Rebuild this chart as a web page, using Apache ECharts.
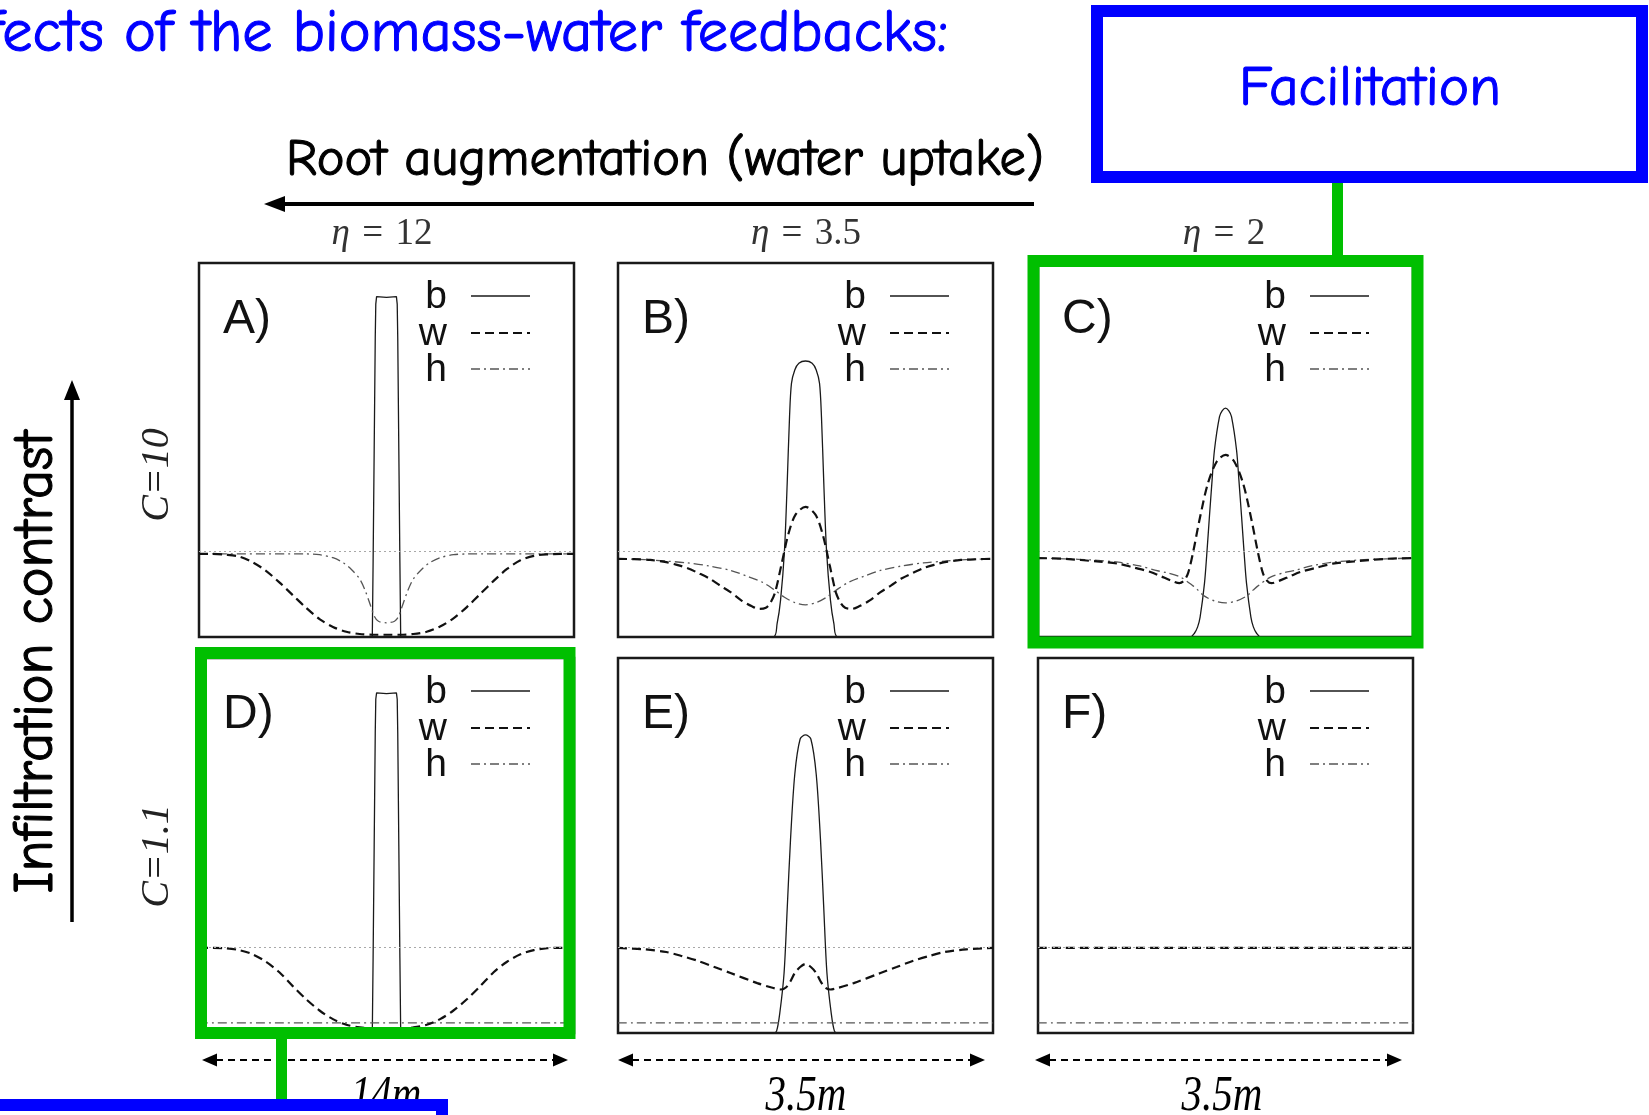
<!DOCTYPE html>
<html>
<head>
<meta charset="utf-8">
<script src="https://cdn.jsdelivr.net/npm/echarts@6/dist/echarts.min.js"></script>
<style>
  html, body { margin: 0; padding: 0; background: #fff; overflow: hidden; }
  #chart { width: 1649px; height: 1115px; }
</style>
</head>
<body>
<div id="chart"></div>
<script>
// ---- Profiles across a vegetation spot: x in metres from the spot centre,
// ---- values as a fraction of each panel's vertical range.

// Panel A: eta = 12, C = 10 (14 m domain)
const bA = [[-7,0],[-0.53,0],[-0.5,0.2],[-0.46,0.5],[-0.42,0.8],[-0.4,0.89],[-0.37,0.91],[0,0.908],[0.37,0.91],[0.4,0.89],[0.42,0.8],[0.46,0.5],[0.5,0.2],[0.53,0],[7,0]];
const wA = [[-7,0.222],[-6.5,0.222],[-6,0.22],[-5.5,0.215],[-5,0.2],[-4.5,0.177],[-4,0.146],[-3.5,0.112],[-3,0.078],[-2.5,0.048],[-2,0.027],[-1.5,0.014],[-1,0.008],[-0.5,0.006],[0,0.006],[0.5,0.006],[1,0.008],[1.5,0.014],[2,0.028],[2.5,0.05],[3,0.08],[3.5,0.115],[4,0.15],[4.5,0.182],[5,0.205],[5.5,0.217],[6,0.221],[6.5,0.222],[7,0.222]];
const hA = [[-7,0.222],[-3,0.222],[-2.5,0.22],[-2,0.212],[-1.6,0.198],[-1.3,0.18],[-1,0.155],[-0.8,0.125],[-0.6,0.085],[-0.45,0.055],[-0.3,0.042],[0,0.038],[0.3,0.042],[0.45,0.055],[0.6,0.085],[0.8,0.125],[1,0.155],[1.3,0.18],[1.6,0.198],[2,0.212],[2.5,0.22],[3,0.222],[7,0.222]];

// Panel B: eta = 3.5, C = 10 (3.5 m domain)
const bB = [[-1.75,0],[-0.302,0],[-0.265,0.036],[-0.233,0.098],[-0.196,0.232],[-0.171,0.41],[-0.149,0.589],[-0.131,0.678],[-0.1,0.714],[-0.062,0.732],[0,0.738],[0.062,0.732],[0.1,0.714],[0.131,0.678],[0.149,0.589],[0.171,0.41],[0.196,0.232],[0.233,0.098],[0.265,0.036],[0.302,0],[1.75,0]];
const wB = [[-1.75,0.209],[-1.6,0.208],[-1.45,0.206],[-1.3,0.2],[-1.2,0.193],[-1.1,0.184],[-1,0.171],[-0.9,0.157],[-0.8,0.138],[-0.7,0.12],[-0.6,0.098],[-0.5,0.082],[-0.43,0.075],[-0.37,0.078],[-0.33,0.09],[-0.285,0.118],[-0.225,0.193],[-0.16,0.275],[-0.093,0.327],[0,0.348],[0.093,0.327],[0.16,0.275],[0.225,0.193],[0.285,0.118],[0.33,0.09],[0.37,0.078],[0.43,0.075],[0.5,0.082],[0.6,0.098],[0.7,0.12],[0.8,0.138],[0.9,0.157],[1,0.171],[1.1,0.184],[1.2,0.193],[1.3,0.2],[1.45,0.206],[1.6,0.208],[1.75,0.209]];
const hB = [[-1.75,0.209],[-1.5,0.207],[-1.3,0.203],[-1.1,0.198],[-0.9,0.19],[-0.7,0.178],[-0.55,0.163],[-0.4,0.146],[-0.3,0.128],[-0.2,0.107],[-0.1,0.092],[0,0.086],[0.1,0.092],[0.2,0.107],[0.3,0.128],[0.4,0.146],[0.55,0.163],[0.7,0.178],[0.9,0.19],[1.1,0.198],[1.3,0.203],[1.5,0.207],[1.75,0.209]];

// Panel C: eta = 2, C = 10 (3.5 m domain)
const bC = [[-1.75,0],[-0.33,0],[-0.29,0.01],[-0.26,0.027],[-0.237,0.053],[-0.196,0.144],[-0.175,0.22],[-0.15,0.322],[-0.125,0.42],[-0.103,0.5],[-0.056,0.589],[-0.03,0.605],[0,0.612],[0.03,0.605],[0.056,0.589],[0.103,0.5],[0.125,0.42],[0.15,0.322],[0.175,0.22],[0.196,0.144],[0.237,0.053],[0.26,0.027],[0.29,0.01],[0.33,0],[1.75,0]];
const wC = [[-1.75,0.211],[-1.5,0.209],[-1.2,0.202],[-1,0.196],[-0.86,0.186],[-0.7,0.174],[-0.6,0.162],[-0.5,0.15],[-0.43,0.144],[-0.39,0.15],[-0.35,0.17],[-0.3,0.23],[-0.245,0.31],[-0.165,0.41],[-0.08,0.47],[0,0.487],[0.08,0.47],[0.165,0.41],[0.245,0.31],[0.3,0.23],[0.35,0.17],[0.39,0.15],[0.43,0.144],[0.5,0.15],[0.6,0.162],[0.7,0.174],[0.86,0.186],[1,0.196],[1.2,0.202],[1.5,0.209],[1.75,0.211]];
const hC = [[-1.75,0.211],[-1.5,0.209],[-1.25,0.206],[-1,0.2],[-0.8,0.19],[-0.65,0.178],[-0.55,0.172],[-0.42,0.16],[-0.3,0.136],[-0.26,0.126],[-0.2,0.11],[-0.1,0.096],[0,0.091],[0.1,0.096],[0.2,0.11],[0.26,0.126],[0.3,0.136],[0.42,0.16],[0.55,0.172],[0.65,0.178],[0.8,0.19],[1,0.2],[1.25,0.206],[1.5,0.209],[1.75,0.211]];

// Panel D: eta = 12, C = 1.1 (14 m domain)
const bD = [[-7,0],[-0.53,0],[-0.5,0.2],[-0.46,0.5],[-0.42,0.8],[-0.4,0.89],[-0.37,0.907],[0,0.905],[0.37,0.907],[0.4,0.89],[0.42,0.8],[0.46,0.5],[0.5,0.2],[0.53,0],[7,0]];
const wD = [[-7,0.227],[-6.5,0.227],[-6,0.226],[-5.5,0.221],[-5,0.21],[-4.5,0.19],[-4,0.162],[-3.5,0.125],[-3,0.09],[-2.5,0.06],[-2,0.037],[-1.5,0.022],[-1,0.015],[-0.5,0.012],[0,0.012],[0.5,0.012],[1,0.015],[1.5,0.022],[2,0.037],[2.5,0.06],[3,0.09],[3.5,0.125],[4,0.162],[4.5,0.19],[5,0.21],[5.5,0.221],[6,0.226],[6.5,0.227],[7,0.227]];
const hD = [[-7,0.027],[0,0.027],[7,0.027]];

// Panel E: eta = 3.5, C = 1.1 (3.5 m domain)
const bE = [[-1.75,0],[-0.3,0],[-0.27,0.005],[-0.24,0.053],[-0.2,0.16],[-0.17,0.336],[-0.14,0.515],[-0.1,0.69],[-0.05,0.784],[0,0.795],[0.05,0.784],[0.1,0.69],[0.14,0.515],[0.17,0.336],[0.2,0.16],[0.24,0.053],[0.27,0.005],[0.3,0],[1.75,0]];
const wE = [[-1.75,0.227],[-1.5,0.223],[-1.3,0.216],[-1.15,0.205],[-1,0.192],[-0.85,0.176],[-0.7,0.16],[-0.45,0.133],[-0.3,0.12],[-0.23,0.116],[-0.18,0.122],[-0.14,0.138],[-0.1,0.16],[-0.05,0.176],[0,0.184],[0.05,0.176],[0.1,0.16],[0.14,0.138],[0.18,0.122],[0.23,0.116],[0.3,0.12],[0.45,0.133],[0.7,0.16],[0.85,0.176],[1,0.192],[1.15,0.205],[1.3,0.216],[1.5,0.223],[1.75,0.227]];
const hE = [[-1.75,0.027],[0,0.027],[1.75,0.027]];

// Panel F: eta = 2, C = 1.1 (bare soil, no vegetation)
const bF = [[-1.75,0],[1.75,0]];
const wF = [[-1.75,0.227],[0,0.227],[1.75,0.227]];
const hF = [[-1.75,0.027],[0,0.027],[1.75,0.027]];

// Uniform-state reference level per row (top: C = 10, bottom: C = 1.1)
const referenceLevel = [0.225, 0.227];

// Labels
const panelLetters = ['A)', 'B)', 'C)', 'D)', 'E)', 'F)'];
const etaValues = ['12', '3.5', '2'];
const contrastLabels = ['C=10', 'C=1.1'];
const domainLabels = ['14m', '3.5m', '3.5m'];
const domainHalfWidth = [7, 1.75, 1.75];
const legendNames = ['b', 'w', 'h'];

const profiles = [
  [bA, wA, hA], [bB, wB, hB], [bC, wC, hC],
  [bD, wD, hD], [bE, wE, hE], [bF, wF, hF]
];

// ---- Layout
const COL_LEFT = [199, 618, 1038];
const ROW_TOP = [263, 658];
const PANEL_W = 375;
const PANEL_H = [374, 375];

const COMIC = '"Comic Sans MS", "Comic Neue", Lato, sans-serif';
const SANS = '"Liberation Sans", Arial, sans-serif';
const SERIF = '"Liberation Serif", "Times New Roman", serif';
const BLUE = '#0000ff';
const GREEN = '#00bf00';

const mctx = document.createElement('canvas').getContext('2d');
function fitSize(text, font, target) {
  mctx.font = font.replace('{s}', '100px');
  return 100 * target / mctx.measureText(text).width;
}

const lineStyles = {
  b: { color: '#1a1a1a', width: 1.3, type: 'solid' },
  w: { color: '#111', width: 2.2, type: [9, 5] },
  h: { color: '#555', width: 1.3, type: [9, 4, 2, 4] }
};

const grids = [], xAxes = [], yAxes = [], series = [], graphics = [];

for (let i = 0; i < 6; i++) {
  const r = Math.floor(i / 3), c = i % 3;
  const L = COL_LEFT[c], T = ROW_TOP[r];
  grids.push({
    left: L, top: T, width: PANEL_W, height: PANEL_H[r],
    show: true, borderColor: '#1a1a1a', borderWidth: 2.5, backgroundColor: '#fff'
  });
  xAxes.push({ type: 'value', gridIndex: i, min: -domainHalfWidth[c], max: domainHalfWidth[c], show: false });
  yAxes.push({ type: 'value', gridIndex: i, min: 0, max: 1, show: false });

  const sharpBar = (c === 0);
  legendNames.forEach((name, k) => {
    const s = {
      type: 'line', name: name, xAxisIndex: i, yAxisIndex: i,
      data: profiles[i][k], showSymbol: false, symbol: 'none',
      smooth: (name === 'b' && sharpBar) ? false : 0.3,
      lineStyle: lineStyles[name], z: name === 'w' ? 4 : 3, silent: true
    };
    if (name === 'w') {
      s.markLine = {
        silent: true, symbol: 'none', label: { show: false }, animation: false,
        lineStyle: { color: '#a8a8a8', width: 1.2, type: [2, 3] },
        data: [{ yAxis: referenceLevel[r] }]
      };
    }
    series.push(s);
  });

  // panel letter
  graphics.push({
    type: 'text', x: L + 24, y: T + 57, z: 20,
    style: { text: panelLetters[i], fontFamily: SANS, fontSize: 48, fill: '#111', align: 'left', verticalAlign: 'middle' }
  });
  // legend: right-aligned names with line samples
  const rowsY = [T + 33, T + 70, T + 106];
  legendNames.forEach((name, k) => {
    graphics.push({
      type: 'text', x: L + 248, y: rowsY[k] + 1, z: 20,
      style: { text: name, fontFamily: SANS, fontSize: 39, fill: '#111', align: 'right', verticalAlign: 'middle' }
    });
    const ls = lineStyles[name];
    graphics.push({
      type: 'line', z: 20,
      shape: { x1: L + 272, y1: rowsY[k], x2: L + 331, y2: rowsY[k] },
      style: { stroke: ls.color, lineWidth: ls.width, lineDash: ls.type === 'solid' ? null : ls.type }
    });
  });
}

// Hand-lettered captions: regular weight thickened by a thin outline
function caption(text, x, y, size, color, align, rotation) {
  return {
    type: 'text', x: x, y: y, rotation: rotation || 0, z: 30,
    style: {
      text: text, fontFamily: COMIC, fontSize: size, fill: color,
      stroke: color, lineWidth: 1.1, align: align, verticalAlign: 'middle'
    }
  };
}
const comicFont = 'normal {s} ' + COMIC;

// ---- Title
const titleSize = fitSize('ects of the biomass-water feedbacks:', comicFont, 946);
graphics.push(caption('Effects of the biomass-water feedbacks:', 948, 54 - 0.33 * titleSize, titleSize, BLUE, 'right'));

// ---- Root augmentation axis (arrow pointing left)
const rootSize = fitSize('Root augmentation (water uptake)', comicFont, 758);
graphics.push(caption('Root augmentation (water uptake)', 665, 177 - 0.33 * rootSize, rootSize, '#000', 'center'));
graphics.push({ type: 'line', z: 30, shape: { x1: 1034, y1: 204, x2: 280, y2: 204 }, style: { stroke: '#000', lineWidth: 4 } });
graphics.push({ type: 'polygon', z: 30, shape: { points: [[264, 204], [285, 196], [285, 212]] }, style: { fill: '#000' } });

// ---- Eta labels over the columns
const etaX = [382, 806, 1224];
etaValues.forEach((v, c) => {
  graphics.push({
    type: 'text', x: etaX[c], y: 234, z: 30,
    style: {
      text: '{i|η}\u2004=\u2004' + v, fontFamily: SERIF, fontSize: 37, fill: '#333',
      align: 'center', verticalAlign: 'middle',
      rich: { i: { fontFamily: SERIF, fontStyle: 'italic', fontSize: 37, fill: '#333' } }
    }
  });
});

// ---- Infiltration contrast axis (arrow pointing up)
const infSize = fitSize('Infiltration contrast', comicFont, 463);
graphics.push(caption('Infiltration contrast', 36, 662, infSize, '#000', 'center', Math.PI / 2));
graphics.push({ type: 'line', z: 30, shape: { x1: 72, y1: 922, x2: 72, y2: 396 }, style: { stroke: '#000', lineWidth: 3.5 } });
graphics.push({ type: 'polygon', z: 30, shape: { points: [[72, 380], [64, 400], [80, 400]] }, style: { fill: '#000' } });

const contrastY = [475, 856];
contrastLabels.forEach((t, r) => {
  graphics.push({
    type: 'text', x: 157, y: contrastY[r], rotation: Math.PI / 2, z: 30,
    style: { text: t, fontFamily: SERIF, fontStyle: 'italic', fontSize: 40, fill: '#222', align: 'center', verticalAlign: 'middle' }
  });
});

// ---- Domain size arrows under each column
const spanEnds = [[202, 568], [618, 985], [1035, 1402]];
const spanLabelX = [386, 806, 1222];
spanEnds.forEach((e, c) => {
  const y = 1060;
  graphics.push({ type: 'line', z: 30, shape: { x1: e[0] + 14, y1: y, x2: e[1] - 14, y2: y }, style: { stroke: '#000', lineWidth: 2, lineDash: [7, 5] } });
  graphics.push({ type: 'polygon', z: 30, shape: { points: [[e[0], y], [e[0] + 15, y - 6.5], [e[0] + 15, y + 6.5]] }, style: { fill: '#000' } });
  graphics.push({ type: 'polygon', z: 30, shape: { points: [[e[1], y], [e[1] - 15, y - 6.5], [e[1] - 15, y + 6.5]] }, style: { fill: '#000' } });
  graphics.push({
    type: 'text', x: spanLabelX[c], y: 1097, scaleX: 0.82, z: 30,
    style: { text: domainLabels[c], fontFamily: SERIF, fontStyle: 'italic', fontSize: 50, fill: '#000', align: 'center', verticalAlign: 'middle' }
  });
});

// ---- Highlight frames and callout boxes
graphics.push({ type: 'rect', z: 40, shape: { x: 1033.5, y: 261, width: 384, height: 381.5 }, style: { fill: null, stroke: GREEN, lineWidth: 12 } });
graphics.push({ type: 'rect', z: 40, shape: { x: 201, y: 653, width: 368.5, height: 380 }, style: { fill: null, stroke: GREEN, lineWidth: 12 } });
graphics.push({ type: 'rect', z: 40, shape: { x: 1332, y: 180, width: 11, height: 78 }, style: { fill: GREEN } });
graphics.push({ type: 'rect', z: 40, shape: { x: 276, y: 1036, width: 11, height: 66 }, style: { fill: GREEN } });

graphics.push({ type: 'rect', z: 45, shape: { x: 1097, y: 11, width: 545, height: 166 }, style: { fill: '#fff', stroke: BLUE, lineWidth: 12 } });
const facSize = fitSize('Facilitation', comicFont, 262);
const fac = caption('Facilitation', 1370, 108 - 0.33 * facSize, facSize, BLUE, 'center');
fac.z = 46;
graphics.push(fac);
graphics.push({ type: 'rect', z: 45, shape: { x: -20, y: 1105, width: 462, height: 60 }, style: { fill: '#fff', stroke: BLUE, lineWidth: 12 } });

const chart = echarts.init(document.getElementById('chart'), null, { renderer: 'canvas' });
chart.setOption({
  animation: false,
  backgroundColor: '#fff',
  grid: grids,
  xAxis: xAxes,
  yAxis: yAxes,
  series: series,
  graphic: { elements: graphics }
});
</script>
</body>
</html>
